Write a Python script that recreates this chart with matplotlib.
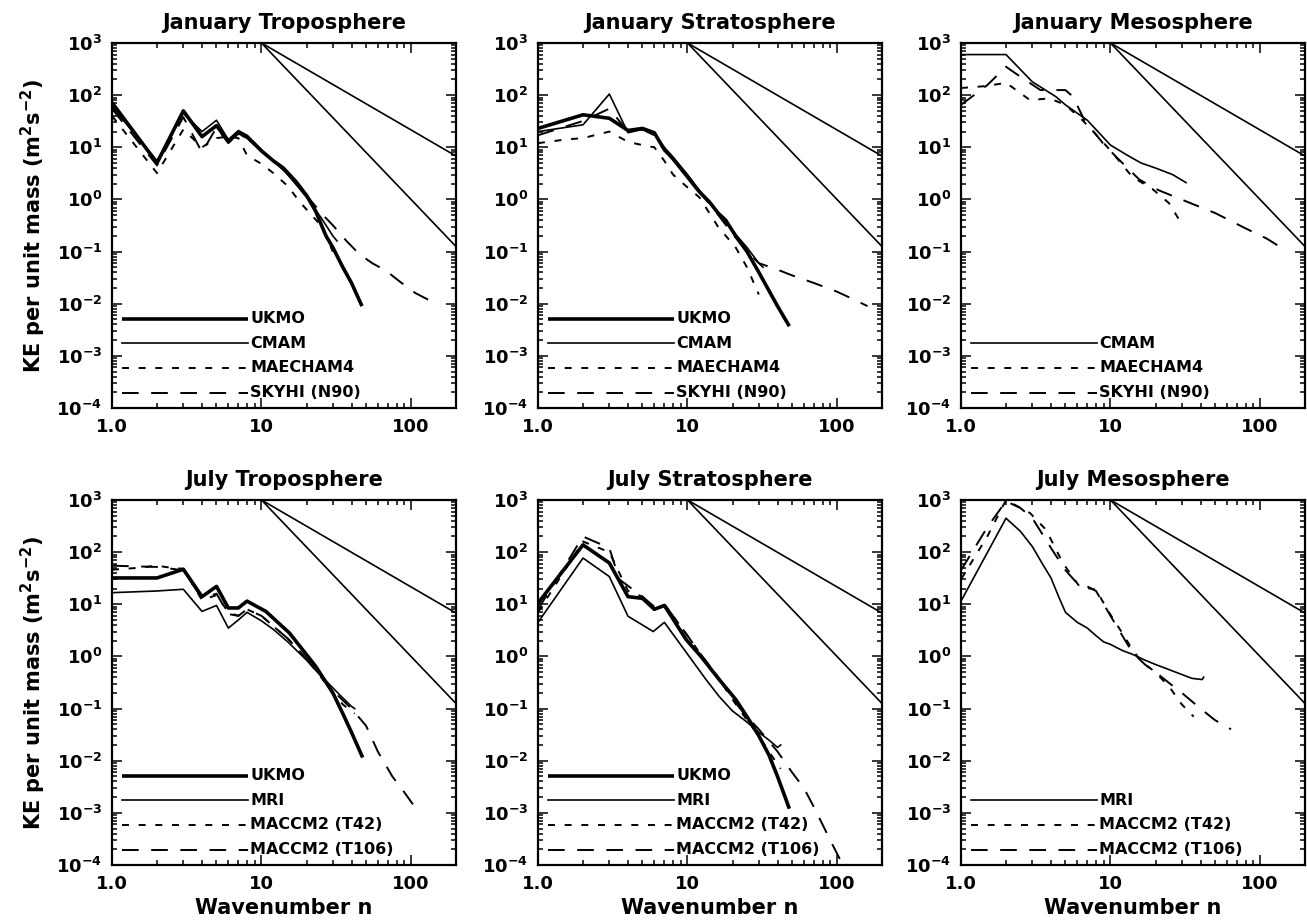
import numpy as np
import matplotlib
matplotlib.use("Agg")
import matplotlib.pyplot as plt
from matplotlib.ticker import FixedLocator, FixedFormatter, LogLocator, NullFormatter

plt.rcParams["font.family"] = ["DejaVu Sans"]
plt.rcParams["font.weight"] = "bold"
plt.rcParams["mathtext.fontset"] = "custom"
plt.rcParams["mathtext.rm"] = "DejaVu Sans:bold"
plt.rcParams["mathtext.it"] = "DejaVu Sans:bold"
plt.rcParams["mathtext.bf"] = "DejaVu Sans:bold"
plt.rcParams["lines.scale_dashes"] = False

# ---------------- data: kinetic energy spectra (m^2 s^-2) ----------------
# January troposphere
JT_UKMO_N = [1, 2, 3, 4, 5, 6, 7, 8, 10, 12, 14, 17, 20, 23, 27, 30, 35, 40, 47]
JT_UKMO_KE = [72, 5, 50, 16, 26, 13, 19, 16, 8.5, 5.5, 4, 2.2, 1.2, 0.6, 0.2, 0.12, 0.05, 0.025, 0.009]
JT_CMAM_N = [1, 2, 3, 4, 5, 6, 7, 8, 10, 12, 15, 20, 25, 30, 32]
JT_CMAM_KE = [60, 5.5, 45, 20, 33, 14, 21, 17, 9, 5.5, 3, 1.1, 0.45, 0.2, 0.16]
JT_MAECHAM_N = [1, 2, 3, 4, 5, 6, 7, 8, 10, 12, 15, 18, 21, 24, 27, 30]
JT_MAECHAM_KE = [40, 3.2, 22, 10, 15, 16, 15, 7, 4.8, 3.2, 1.8, 0.9, 0.55, 0.36, 0.2, 0.1]
JT_SKYHI_N = [1, 2, 3, 4, 5, 6, 7, 8, 10, 12, 15, 20, 25, 30, 37, 45, 55, 68, 85, 107, 130, 150]
JT_SKYHI_KE = [55, 4.5, 38, 8, 24, 12, 18, 15, 8.5, 5.5, 3, 1.2, 0.55, 0.32, 0.16, 0.09, 0.06, 0.043, 0.026, 0.016, 0.012, 0.009]

# January stratosphere
JS_UKMO_N = [1, 2, 3, 4, 5, 6, 7, 8, 10, 12, 14, 16, 18, 21, 25, 30, 35, 40, 48]
JS_UKMO_KE = [23, 42, 36, 21, 23, 19, 9, 6, 2.7, 1.4, 0.9, 0.55, 0.4, 0.2, 0.1, 0.04, 0.018, 0.009, 0.0037]
JS_CMAM_N = [1, 2, 3, 4, 5, 6, 7, 8, 10, 12, 15, 20, 25, 30, 32]
JS_CMAM_KE = [20, 27, 105, 19, 22, 18, 10, 6.5, 3, 1.5, 0.7, 0.25, 0.12, 0.06, 0.05]
JS_MAECHAM_N = [1, 1.5, 2, 3, 4, 5, 6, 7, 8, 10, 12, 16, 21, 25, 30]
JS_MAECHAM_KE = [12, 14, 15, 20, 12.7, 11, 10, 5.5, 3, 1.7, 1.1, 0.3, 0.12, 0.05, 0.015]
JS_SKYHI_N = [1, 2, 3, 4, 5, 6, 7, 8, 10, 12, 15, 20, 25, 30, 40, 50, 70, 100, 130, 160]
JS_SKYHI_KE = [17, 32, 55, 20, 22, 17, 9, 6, 2.8, 1.4, 0.65, 0.22, 0.1, 0.06, 0.045, 0.035, 0.025, 0.017, 0.012, 0.009]

# January mesosphere
JM_CMAM_N = [1, 2, 3, 4.3, 5, 7, 10, 13, 16, 20, 26, 32]
JM_CMAM_KE = [600, 600, 180, 94, 65, 33, 11, 7, 5, 4, 3, 2.1]
JM_MAECHAM_N = [1, 1.5, 2, 2.9, 3.9, 5, 6.5, 8.9, 10.4, 14, 19, 24.6, 29.4]
JM_MAECHAM_KE = [137, 150, 173, 80, 87, 65, 33, 12.6, 7.6, 2.7, 1.6, 0.85, 0.37]
JM_SKYHI_N = [1, 1.5, 2, 2.5, 3.4, 5, 5.6, 6.7, 8.9, 11, 15.6, 21, 27.4, 50, 84, 110, 145]
JM_SKYHI_KE = [65, 156, 350, 225, 125, 125, 94, 33, 12, 6.4, 2.4, 1.5, 1.1, 0.55, 0.26, 0.18, 0.11]

# July troposphere
JuT_UKMO_N = [1, 2, 3, 4, 5, 6, 7, 8, 10.7, 15.4, 23, 30, 35, 40, 47.5]
JuT_UKMO_KE = [32, 32, 47, 14, 22, 8.5, 8.5, 11.5, 7.3, 2.8, 0.65, 0.2, 0.08, 0.035, 0.0115]
JuT_MRI_N = [1, 2, 3, 4, 5, 6, 7, 8, 10, 12, 15, 20, 25, 30, 35, 40, 42]
JuT_MRI_KE = [16.7, 18, 19.4, 7.3, 9.5, 3.5, 5, 7, 4.8, 3.3, 1.9, 0.85, 0.42, 0.25, 0.16, 0.11, 0.1]
JuT_T42_N = [1, 1.5, 2, 2.5, 3, 4, 5, 6, 7, 8, 10, 12, 15, 20, 25, 30, 35, 42]
JuT_T42_KE = [46, 50, 55, 50, 48, 12, 15, 7, 6, 8, 6, 3.8, 2.2, 0.9, 0.4, 0.2, 0.12, 0.08]
JuT_T106_N = [1, 2, 3, 4, 5, 6, 7, 8, 10, 12, 15, 20, 25, 30, 40, 50, 60, 75, 90, 106]
JuT_T106_KE = [55, 52, 45, 13, 16, 6.5, 6, 8, 6, 3.8, 2.2, 0.9, 0.45, 0.22, 0.1, 0.047, 0.015, 0.005, 0.0025, 0.0013]

# July stratosphere
JuS_UKMO_N = [1, 2, 3, 4, 5, 6, 7, 9.8, 12.3, 16.3, 21, 25, 30, 35, 40, 45, 48]
JuS_UKMO_KE = [10.5, 138, 62, 14, 13, 8, 9.5, 2.1, 1, 0.36, 0.15, 0.07, 0.03, 0.013, 0.005, 0.002, 0.0012]
JuS_MRI_N = [1, 2, 3, 4, 5.9, 7, 9.8, 13.3, 16.3, 20, 25, 30, 35, 40, 42]
JuS_MRI_KE = [4.5, 77, 34, 5.9, 3, 4.5, 1.2, 0.36, 0.17, 0.09, 0.055, 0.035, 0.025, 0.018, 0.02]
JuS_T42_N = [1, 2, 3, 4, 5, 6, 7, 8, 10, 12, 16, 20, 25, 30, 35, 42]
JuS_T42_KE = [7, 160, 100, 18, 14, 8, 10, 6, 2.5, 1.2, 0.4, 0.15, 0.06, 0.03, 0.015, 0.007]
JuS_T106_N = [1, 2, 3, 3.5, 5, 6, 7, 8, 10, 12, 16, 20, 25, 30, 40, 50, 60, 70, 80, 90, 106]
JuS_T106_KE = [8, 200, 120, 30, 14, 9, 10, 6, 2.5, 1.2, 0.4, 0.15, 0.07, 0.04, 0.015, 0.006, 0.003,
               0.0013, 0.0006, 0.0003, 0.00012]

# July mesosphere
JuM_MRI_N = [1, 2, 2.5, 3, 3.5, 4, 4.5, 5, 6, 7, 8, 9, 10, 12, 14, 17, 20, 25, 30, 35, 41, 42]
JuM_MRI_KE = [11.5, 447, 250, 128, 60, 32, 14, 7, 4.5, 3.5, 2.5, 1.9, 1.7, 1.3, 1.1, 0.85, 0.7, 0.55, 0.45, 0.38, 0.36, 0.4]
JuM_T42_N = [1, 1.5, 2, 2.9, 3.7, 4.8, 6.2, 8, 9.8, 12, 13.7, 16, 20, 25, 30, 36]
JuM_T42_KE = [30, 200, 1000, 560, 270, 62, 22, 19, 6.9, 2.8, 1.5, 0.8, 0.5, 0.25, 0.12, 0.07]
JuM_T106_N = [1, 1.5, 2, 2.5, 3, 4, 5, 6, 7, 8, 10, 12, 14, 17, 20, 25, 30, 40, 50, 64]
JuM_T106_KE = [45, 300, 950, 700, 450, 120, 45, 25, 22, 18, 6, 2.5, 1.2, 0.7, 0.5, 0.3, 0.2, 0.1, 0.06, 0.04]

# reference power laws anchored at n=10, KE=1000
REF_N = [10, 200]
REF_SLOPES = [-5.0 / 3.0, -3.0]
REF_ANCHOR = 1000.0

TITLES = ["January Troposphere", "January Stratosphere", "January Mesosphere",
          "July Troposphere", "July Stratosphere", "July Mesosphere"]
YTICKS = [1e-4, 1e-3, 1e-2, 1e-1, 1e0, 1e1, 1e2, 1e3]
YTICK_LABELS = [r"$10^{-4}$", r"$10^{-3}$", r"$10^{-2}$", r"$10^{-1}$",
                r"$10^{0}$", r"$10^{1}$", r"$10^{2}$", r"$10^{3}$"]
XTICKS = [1, 10, 100]
XTICK_LABELS = ["1.0", "10", "100"]

# line styles
STY = {
    "thick": dict(color="black", lw=2.6, ls="-", solid_capstyle="butt"),
    "thin": dict(color="black", lw=1.2, ls="-"),
    "short": dict(color="black", lw=1.4, ls=(0, (5, 7))),
    "long": dict(color="black", lw=1.4, ls=(0, (12, 9))),
}

PANELS = [
    [(JT_UKMO_N, JT_UKMO_KE, "thick", "UKMO"), (JT_CMAM_N, JT_CMAM_KE, "thin", "CMAM"),
     (JT_MAECHAM_N, JT_MAECHAM_KE, "short", "MAECHAM4"), (JT_SKYHI_N, JT_SKYHI_KE, "long", "SKYHI (N90)")],
    [(JS_UKMO_N, JS_UKMO_KE, "thick", "UKMO"), (JS_CMAM_N, JS_CMAM_KE, "thin", "CMAM"),
     (JS_MAECHAM_N, JS_MAECHAM_KE, "short", "MAECHAM4"), (JS_SKYHI_N, JS_SKYHI_KE, "long", "SKYHI (N90)")],
    [(None, None, None, None), (JM_CMAM_N, JM_CMAM_KE, "thin", "CMAM"),
     (JM_MAECHAM_N, JM_MAECHAM_KE, "short", "MAECHAM4"), (JM_SKYHI_N, JM_SKYHI_KE, "long", "SKYHI (N90)")],
    [(JuT_UKMO_N, JuT_UKMO_KE, "thick", "UKMO"), (JuT_MRI_N, JuT_MRI_KE, "thin", "MRI"),
     (JuT_T42_N, JuT_T42_KE, "short", "MACCM2 (T42)"), (JuT_T106_N, JuT_T106_KE, "long", "MACCM2 (T106)")],
    [(JuS_UKMO_N, JuS_UKMO_KE, "thick", "UKMO"), (JuS_MRI_N, JuS_MRI_KE, "thin", "MRI"),
     (JuS_T42_N, JuS_T42_KE, "short", "MACCM2 (T42)"), (JuS_T106_N, JuS_T106_KE, "long", "MACCM2 (T106)")],
    [(None, None, None, None), (JuM_MRI_N, JuM_MRI_KE, "thin", "MRI"),
     (JuM_T42_N, JuM_T42_KE, "short", "MACCM2 (T42)"), (JuM_T106_N, JuM_T106_KE, "long", "MACCM2 (T106)")],
]

fig = plt.figure(figsize=(13.07, 9.22), dpi=100)
W, H = 1307.0, 922.0
lefts = [112, 538, 961]
tops = [43, 500]
aw, ah = 344, 365

legend_rows = [0.245, 0.178, 0.110, 0.042]

for i, (title, series) in enumerate(zip(TITLES, PANELS)):
    r, c = divmod(i, 3)
    ax = fig.add_axes([lefts[c] / W, 1 - (tops[r] + ah) / H, aw / W, ah / H])
    ax.set_xscale("log")
    ax.set_yscale("log")
    ax.set_xlim(1, 200)
    ax.set_ylim(1e-4, 1e3)

    # reference slopes
    for s in REF_SLOPES:
        ax.plot(REF_N, [REF_ANCHOR * (n / REF_N[0]) ** s for n in REF_N],
                color="black", lw=1.2)

    for k, (n, ke, sty, name) in enumerate(series):
        if n is None:
            continue
        ax.plot(n, ke, **STY[sty])
        y = legend_rows[k]
        ax.plot([0.03, 0.395], [y, y], transform=ax.transAxes, **STY[sty])
        ax.text(0.402, y, name, transform=ax.transAxes, va="center", ha="left",
                fontsize=11.5, fontweight="bold")

    ax.xaxis.set_major_locator(FixedLocator(XTICKS))
    ax.xaxis.set_major_formatter(FixedFormatter(XTICK_LABELS))
    ax.xaxis.set_minor_locator(LogLocator(base=10, subs=np.arange(2, 10), numticks=20))
    ax.xaxis.set_minor_formatter(NullFormatter())
    ax.yaxis.set_major_locator(FixedLocator(YTICKS))
    ax.yaxis.set_major_formatter(FixedFormatter(YTICK_LABELS))
    ax.yaxis.set_minor_locator(LogLocator(base=10, subs=np.arange(2, 10), numticks=20))
    ax.yaxis.set_minor_formatter(NullFormatter())
    ax.tick_params(which="both", direction="in", top=True, right=True, width=1.1)
    ax.tick_params(which="major", length=7, labelsize=13, pad=7)
    ax.tick_params(which="minor", length=3.5)
    for lab in ax.get_xticklabels() + ax.get_yticklabels():
        lab.set_fontweight("bold")
    for sp in ax.spines.values():
        sp.set_linewidth(1.6)

    ax.set_title(title, fontsize=15, fontweight="bold", pad=10)
    if c == 0:
        ax.set_ylabel(r"KE per unit mass (m$^{2}$s$^{-2}$)", fontsize=15,
                      fontweight="bold", labelpad=6)
    if r == 1:
        ax.set_xlabel("Wavenumber n", fontsize=15, fontweight="bold", labelpad=4)

fig.savefig("out.png", dpi=100)
